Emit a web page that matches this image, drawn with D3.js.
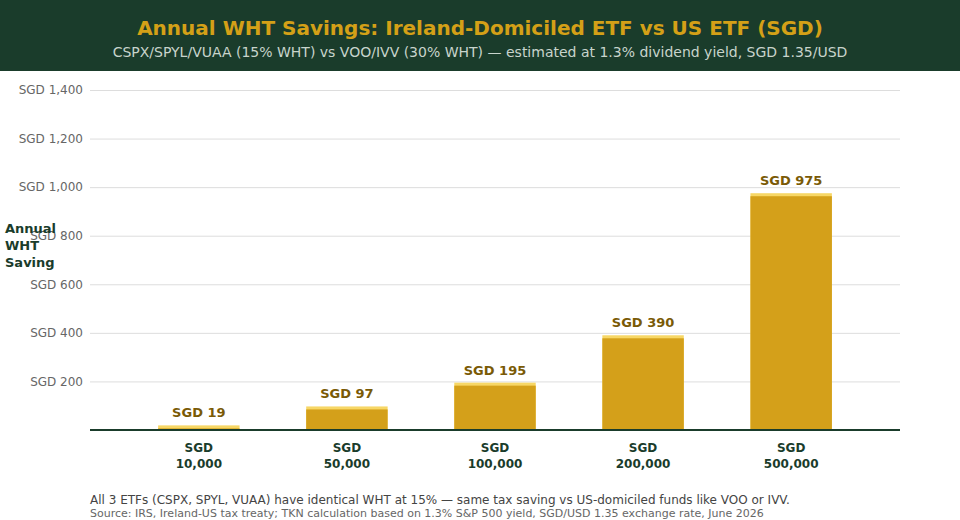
<!DOCTYPE html>
<html>
<head>
<meta charset="utf-8">
<script src="https://cdn.jsdelivr.net/npm/d3@7"></script>
<style>
  body { margin: 0; background: #fff; }
  svg { display: block; font-family: 'DejaVu Sans', sans-serif; }
</style>
</head>
<body>
<div id="chart"></div>
<script>
const investments = ['SGD 10,000', 'SGD 50,000', 'SGD 100,000', 'SGD 200,000', 'SGD 500,000']
const savings = [19, 97, 195, 390, 975]
const yTicks = [200, 400, 600, 800, 1000, 1200, 1400]

const width = 960
const height = 520
const margin = { top: 90, right: 60, bottom: 90, left: 90 }

const svg = d3
  .select('#chart')
  .append('svg')
  .attr('width', width)
  .attr('height', height)

// header band
svg.append('rect')
  .attr('width', width)
  .attr('height', 71)
  .attr('fill', '#1a3c2b')

svg.append('text')
  .attr('x', width / 2)
  .attr('y', 35)
  .attr('text-anchor', 'middle')
  .attr('font-size', '20px')
  .attr('font-weight', 'bold')
  .attr('fill', '#d4a017')
  .text('Annual WHT Savings: Ireland-Domiciled ETF vs US ETF (SGD)')

svg.append('text')
  .attr('x', width / 2)
  .attr('y', 57)
  .attr('text-anchor', 'middle')
  .attr('font-size', '14px')
  .attr('fill', '#c8d4cc')
  .text('CSPX/SPYL/VUAA (15% WHT) vs VOO/IVV (30% WHT) \u2014 estimated at 1.3% dividend yield, SGD 1.35/USD')

const x = d3
  .scaleBand()
  .domain(investments)
  .range([margin.left, width - margin.right])
  .paddingInner(0.45)
  .paddingOuter(0.46)

const y = d3
  .scaleLinear()
  .domain([0, 1400])
  .range([height - margin.bottom, margin.top])

// gridlines + y ticks
const yAxis = svg.append('g')
  .attr('transform', `translate(${margin.left},0)`)
  .call(
    d3.axisLeft(y)
      .tickValues(yTicks)
      .tickSize(-(width - margin.left - margin.right))
      .tickPadding(7)
      .tickFormat(d => 'SGD ' + d3.format(',')(d)),
  )
yAxis.select('.domain').remove()
yAxis.selectAll('line').attr('stroke', '#dddddd')
yAxis.selectAll('text')
  .attr('fill', '#666')
  .attr('font-size', '12px')
  .attr('font-family', 'DejaVu Sans, sans-serif')

// bars: light cap + main fill
const bars = svg.append('g')
bars.selectAll('rect.cap')
  .data(savings)
  .join('rect')
  .attr('class', 'cap')
  .attr('x', (d, i) => x(investments[i]))
  .attr('width', x.bandwidth())
  .attr('y', d => y(d))
  .attr('height', d => y(0) - y(d))
  .attr('fill', '#f7d766')

bars.selectAll('rect.main')
  .data(savings)
  .join('rect')
  .attr('class', 'main')
  .attr('x', (d, i) => x(investments[i]))
  .attr('width', x.bandwidth())
  .attr('y', d => Math.min(y(d) + 3, y(0)))
  .attr('height', d => Math.max(0, y(0) - y(d) - 3))
  .attr('fill', '#d4a01a')

// value labels
svg.append('g')
  .selectAll('text')
  .data(savings)
  .join('text')
  .attr('x', (d, i) => x(investments[i]) + x.bandwidth() / 2)
  .attr('y', d => y(d) - 8)
  .attr('text-anchor', 'middle')
  .attr('font-size', '13px')
  .attr('font-weight', 'bold')
  .attr('fill', '#7a5a06')
  .text(d => 'SGD ' + d3.format(',')(d))

// x axis baseline
svg.append('line')
  .attr('x1', margin.left)
  .attr('x2', width - margin.right)
  .attr('y1', y(0))
  .attr('y2', y(0))
  .attr('stroke', '#1a3c2b')
  .attr('stroke-width', 2)

// x labels (two lines)
const xl = svg.append('g')
  .selectAll('text')
  .data(investments)
  .join('text')
  .attr('x', d => x(d) + x.bandwidth() / 2)
  .attr('y', y(0) + 22)
  .attr('text-anchor', 'middle')
  .attr('font-size', '12px')
  .attr('font-weight', 'bold')
  .attr('fill', '#1a3c2b')
xl.each(function(d) {
  const parts = d.split(' ')
  d3.select(this).append('tspan').attr('x', x(d) + x.bandwidth() / 2).text(parts[0])
  d3.select(this).append('tspan').attr('x', x(d) + x.bandwidth() / 2).attr('dy', 16).text(parts[1])
})

// y axis title
const yt = svg.append('text')
  .attr('x', 5)
  .attr('y', 233)
  .attr('font-size', '13px')
  .attr('font-weight', 'bold')
  .attr('fill', '#1a3c2b')
;['Annual', 'WHT', 'Saving'].forEach((w, i) => {
  yt.append('tspan').attr('x', 5).attr('dy', i === 0 ? 0 : 17).text(w)
})

// footer
svg.append('text')
  .attr('x', 90)
  .attr('y', 504)
  .attr('font-size', '12px')
  .attr('fill', '#444')
  .text('All 3 ETFs (CSPX, SPYL, VUAA) have identical WHT at 15% \u2014 same tax saving vs US-domiciled funds like VOO or IVV.')

svg.append('text')
  .attr('x', 90)
  .attr('y', 517)
  .attr('font-size', '11px')
  .attr('fill', '#666')
  .text('Source: IRS, Ireland-US tax treaty; TKN calculation based on 1.3% S&P 500 yield, SGD/USD 1.35 exchange rate, June 2026')
</script>
</body>
</html>
